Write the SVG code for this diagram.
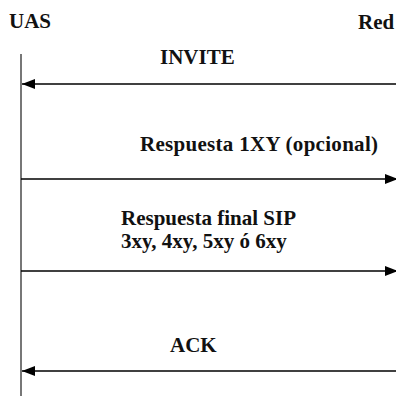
<svg xmlns="http://www.w3.org/2000/svg" width="396" height="396" viewBox="0 0 396 396">
  <style>
    .lbl { font-family: "Liberation Serif", Tinos, "Times New Roman", Times, "DejaVu Serif", serif; font-weight: 700; font-size: 21px; fill: #111; }
    .msg { stroke: #000; stroke-width: 1.3; fill: none; }
    .life { stroke: #555; stroke-width: 1.6; fill: none; }
  </style>
  <defs>
    <marker id="head" markerUnits="userSpaceOnUse" markerWidth="14" markerHeight="12" refX="13" refY="6" orient="auto">
      <path d="M0,1 L13,6 L0,11 Z" fill="#000"/>
    </marker>
  </defs>

  <rect width="396" height="396" fill="#fff"/>

  <!-- left participant and its lifeline -->
  <g id="uas">
    <text class="lbl" x="9" y="28">UAS</text>
    <line class="life" x1="21" y1="54" x2="21" y2="396"/>
  </g>

  <!-- right participant -->
  <g id="red">
    <text class="lbl" x="358" y="29">Red</text>
  </g>

  <!-- messages -->
  <g id="connectors">
    <line class="msg" x1="396" y1="84" x2="22" y2="84" marker-end="url(#head)"/>
    <line class="msg" x1="21" y1="179" x2="398" y2="179" marker-end="url(#head)"/>
    <line class="msg" x1="21" y1="271" x2="398" y2="271" marker-end="url(#head)"/>
    <line class="msg" x1="396" y1="371" x2="22" y2="371" marker-end="url(#head)"/>
  </g>

  <g id="labels">
    <text class="lbl" x="160" y="64">INVITE</text>
    <text class="lbl" x="140" y="151" textLength="238">Respuesta 1XY (opcional)</text>
    <text class="lbl" x="121" y="224.5"><tspan x="121">Respuesta final SIP</tspan><tspan x="121" dy="23.5">3xy, 4xy, 5xy ó 6xy</tspan></text>
    <text class="lbl" x="170" y="352">ACK</text>
  </g>
</svg>
